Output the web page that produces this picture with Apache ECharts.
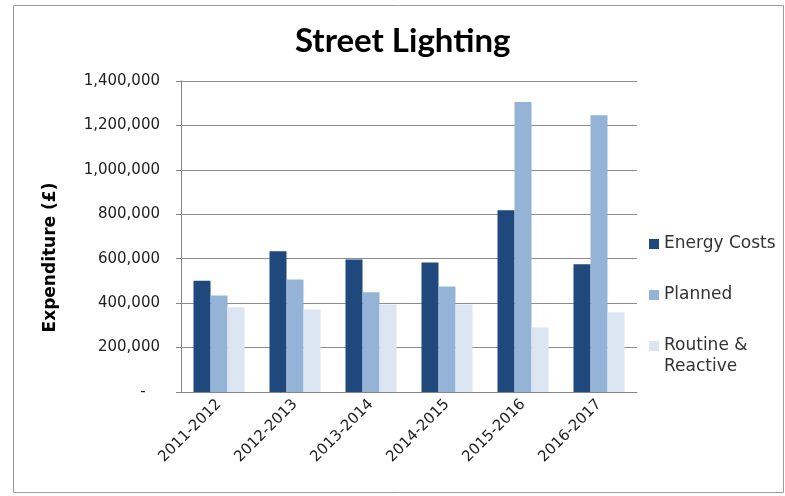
<!DOCTYPE html>
<html>
<head>
<meta charset="utf-8">
<script src="https://cdn.jsdelivr.net/npm/echarts@6/dist/echarts.min.js"></script>
<style>
  html, body { margin: 0; padding: 0; background: #fff; }
  #chart { width: 785px; height: 496px; }
</style>
</head>
<body>
<div id="chart"></div>
<script>
// Street Lighting expenditure by year
const years = ['2011-2012', '2012-2013', '2013-2014', '2014-2015', '2015-2016', '2016-2017'];
const energyCosts = [501000, 634000, 596000, 583000, 818000, 575000];
const planned = [434000, 506000, 449000, 475000, 1306000, 1246000];
const routineReactive = [381000, 371000, 394000, 394000, 290000, 359000];
const seriesNames = ['Energy Costs', 'Planned', 'Routine & Reactive'];

const font = 'DejaVu Sans';
const chart = echarts.init(document.getElementById('chart'));

const barSeries = (name, data) => ({
  name: name,
  type: 'bar',
  data: data,
  barWidth: 17,
  barGap: '0%',
  barCategoryGap: '33%'
});

const legendText = { fontFamily: font, fontSize: 17, color: '#333', lineHeight: 21 };

chart.setOption({
  animation: false,
  color: ['#1F497D', '#95B3D7', '#DCE6F2'],
  title: {
    text: 'Street Lighting',
    left: 290,
    top: 20,
    textStyle: { fontFamily: 'Lato', fontWeight: 'bold', fontSize: 33, color: '#000' }
  },
  graphic: [{
    type: 'rect',
    shape: { x: 13.5, y: 5.5, width: 770, height: 487 },
    style: { fill: 'none', stroke: '#9a9a9a', lineWidth: 1 },
    silent: true
  }],
  legend: [{
    orient: 'vertical',
    left: 649,
    top: 233.5,
    padding: 0,
    itemWidth: 10,
    itemHeight: 10,
    itemGap: 30,
    icon: 'rect',
    data: seriesNames.slice(0, 2),
    textStyle: legendText
  }, {
    orient: 'vertical',
    left: 649,
    top: 314.5,
    padding: 0,
    itemWidth: 10,
    itemHeight: 10,
    icon: 'rect',
    data: seriesNames.slice(2),
    // leading blank line keeps the icon level with the first text line
    formatter: () => ' \nRoutine &\nReactive',
    textStyle: legendText
  }],
  grid: { left: 181, right: 148, top: 81, bottom: 104 },
  xAxis: {
    type: 'category',
    data: years,
    axisLine: { lineStyle: { color: '#868686' } },
    axisTick: { length: 5, lineStyle: { color: '#868686' } },
    axisLabel: { rotate: 45, fontFamily: font, fontSize: 15, color: '#222', margin: 10 }
  },
  yAxis: {
    type: 'value',
    min: 0,
    max: 1400000,
    interval: 200000,
    name: 'Expenditure (£)',
    nameLocation: 'middle',
    nameGap: 122,
    nameTextStyle: { fontFamily: font, fontWeight: 'bold', fontSize: 17, color: '#000', padding: [0, 42, 0, 0] },
    axisLine: { show: true, lineStyle: { color: '#868686' } },
    axisTick: { show: true, length: 5, lineStyle: { color: '#868686' } },
    splitLine: { lineStyle: { color: '#8c8c8c', width: 1 } },
    axisLabel: {
      fontFamily: font,
      fontSize: 15,
      color: '#222',
      margin: 21,
      formatter: (v) => v === 0 ? '-   ' : v.toLocaleString('en-US')
    }
  },
  series: [
    barSeries(seriesNames[0], energyCosts),
    barSeries(seriesNames[1], planned),
    barSeries(seriesNames[2], routineReactive)
  ]
});
</script>
</body>
</html>
